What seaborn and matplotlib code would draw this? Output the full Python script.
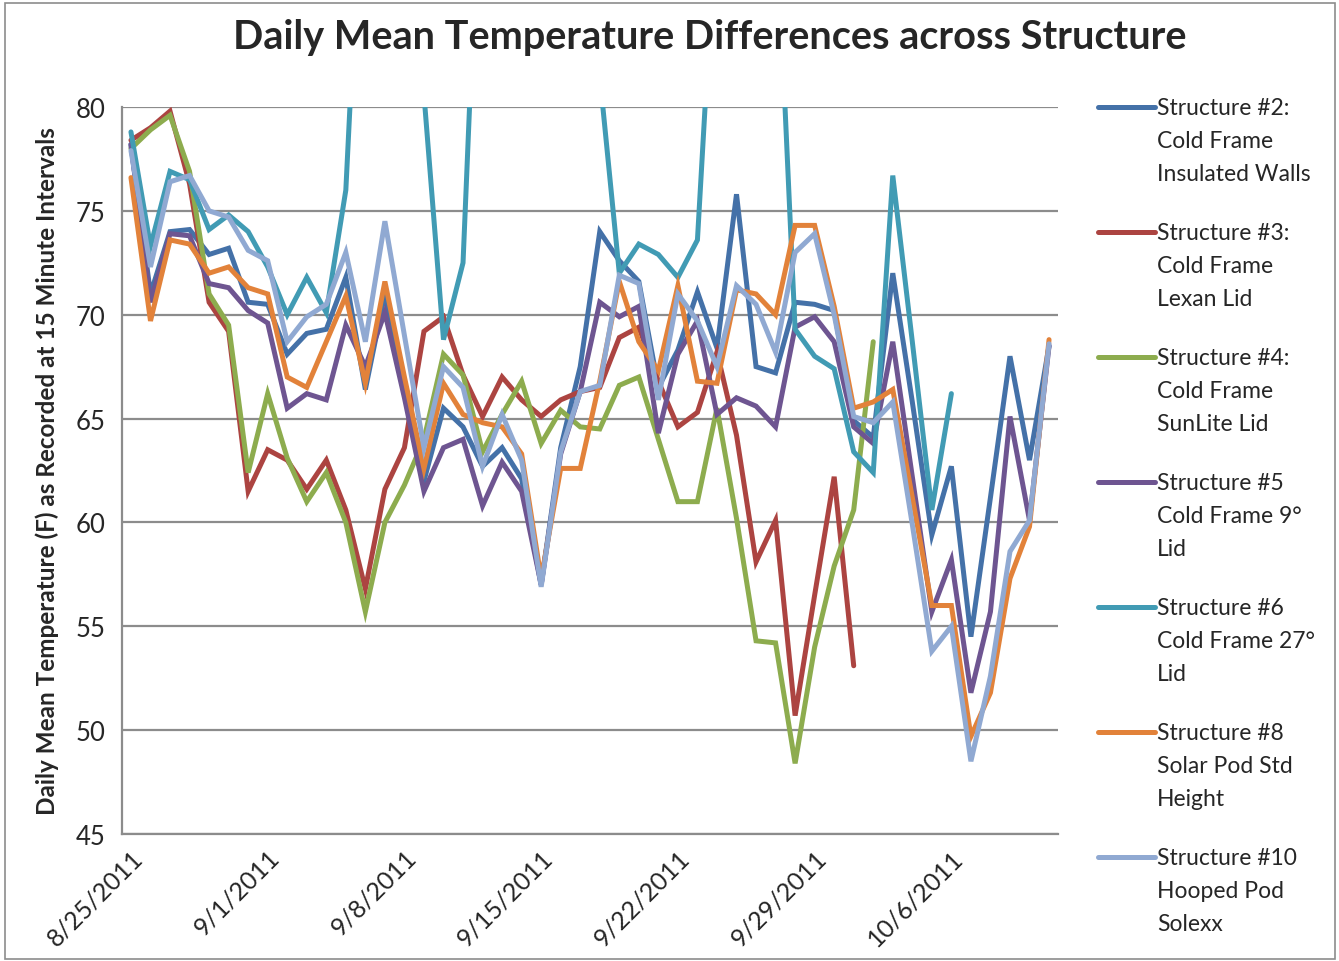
import numpy as np
import pandas as pd
import matplotlib
matplotlib.use("Agg")
import matplotlib.pyplot as plt
import matplotlib.dates as mdates
from matplotlib.lines import Line2D
from matplotlib.patches import Rectangle
import seaborn as sns

nan = np.nan

# one reading per day, 8/25/2011 .. 10/11/2011
dates = pd.date_range("2011-08-25", "2011-10-11", freq="D")

s2 = [78.2, 71.0, 74.0, 74.1, 72.9, 73.2, 70.6, 70.5, 68.1, 69.1, 69.3, 71.8,
      66.4, 71.0, 66.5, 62.0, 65.5, 64.6, 62.7, 63.6, 62.1, 57.0, 63.6, 67.5,
      74.0, 72.6, 71.6, 66.5, 68.3, 71.1, 68.4, 75.8, 67.5, 67.2, 70.6, 70.5,
      70.2, 64.9, 64.1, 72.0, 65.8, 59.4, 62.7, 54.5, 61.2, 68.0, 63.0, 68.5]
s3 = [78.4, 79.0, 79.8, 76.3, 70.6, 69.2, 61.5, 63.5, 63.0, 61.6, 63.0, 60.6,
      56.8, 61.6, 63.6, 69.2, 69.9, 67.1, 65.1, 67.0, 65.9, 65.1, 65.9, 66.3,
      66.5, 68.9, 69.4, 66.8, 64.6, 65.3, 68.2, 64.2, 58.1, 60.1, 50.7, 56.5,
      62.2, 53.1, nan, nan, nan, nan, nan, nan, nan, nan, nan, nan]
s4 = [78.0, 78.9, 79.6, 76.9, 71.0, 69.5, 62.4, 66.2, 63.1, 61.0, 62.4, 60.0,
      55.7, 60.0, 61.8, 64.0, 68.1, 67.1, 63.4, 65.2, 66.8, 63.8, 65.4, 64.6,
      64.5, 66.6, 67.0, 64.0, 61.0, 61.0, 65.5, 60.2, 54.3, 54.2, 48.4, 54.0,
      57.9, 60.6, 68.7, nan, nan, nan, nan, nan, nan, nan, nan, nan]
s5 = [78.2, 70.6, 73.9, 73.8, 71.5, 71.3, 70.2, 69.6, 65.5, 66.2, 65.9, 69.5,
      67.5, 70.1, 66.0, 61.5, 63.6, 64.0, 60.8, 62.9, 61.5, 57.0, 63.3, 66.3,
      70.6, 69.9, 70.4, 64.3, 68.1, 69.7, 65.2, 66.0, 65.6, 64.6, 69.4, 69.9,
      68.7, 64.6, 63.8, 68.7, 62.2, 55.7, 58.2, 51.8, 55.7, 65.1, 60.1, 68.5]
s6 = [78.8, 73.3, 76.9, 76.5, 74.1, 74.8, 74.0, 72.3, 70.0, 71.8, 70.1, 76.0,
      95.0, 100.0, 98.0, 80.6, 68.8, 72.5, 95.0, 98.0, 98.0, 98.0, 95.0, 92.0,
      81.5, 72.0, 73.4, 72.9, 71.8, 73.6, 90.0, 95.0, 95.0, 90.0, 69.3, 68.0,
      67.4, 63.4, 62.4, 76.7, 68.7, 60.6, 66.2, nan, nan, nan, nan, nan]
s8 = [76.6, 69.7, 73.6, 73.4, 72.0, 72.3, 71.3, 71.0, 67.0, 66.5, 68.7, 70.9,
      66.7, 71.6, 67.0, 62.6, 66.7, 65.2, 64.8, 64.6, 63.3, 57.3, 62.6, 62.6,
      66.8, 71.6, 68.7, 67.3, 71.4, 66.8, 66.7, 71.2, 71.0, 70.0, 74.3, 74.3,
      70.4, 65.5, 65.8, 66.4, 61.2, 56.0, 56.0, 49.7, 51.8, 57.3, 59.8, 68.8]
s10 = [77.9, 72.3, 76.4, 76.7, 75.0, 74.7, 73.1, 72.6, 68.7, 69.9, 70.5, 73.0,
       68.7, 74.5, 69.0, 63.6, 67.5, 66.5, 62.7, 65.2, 63.0, 56.9, 63.4, 66.3,
       66.6, 71.9, 71.5, 65.9, 71.0, 69.7, 67.5, 71.4, 70.5, 68.2, 73.0, 73.9,
       70.0, 65.1, 64.8, 65.8, 59.9, 53.8, 55.0, 48.5, 52.6, 58.6, 60.1, 68.6]

labels = ["Structure #2:\nCold Frame\nInsulated Walls",
          "Structure #3:\nCold Frame\nLexan Lid",
          "Structure #4:\nCold Frame\nSunLite Lid",
          "Structure #5\nCold Frame 9\u00b0\nLid",
          "Structure #6\nCold Frame 27\u00b0\nLid",
          "Structure #8\nSolar Pod Std\nHeight",
          "Structure #10\nHooped Pod\nSolexx"]
series = [s2, s3, s4, s5, s6, s8, s10]
colors = ["#4471A8", "#AC4441", "#8DAC4E", "#6E5591", "#419BB4", "#E2823A", "#90A9D2"]

sns.set_style("white")
plt.rcParams["font.family"] = ["Lato", "DejaVu Sans"]

fig = plt.figure(figsize=(13.39, 9.62), dpi=100)
ax = fig.add_axes([122 / 1339, 1 - 835 / 962, (1058 - 122) / 1339, (835 - 108) / 962])

for vals, col, lab in zip(series, colors, labels):
    df = pd.DataFrame({"date": dates, "temp": vals}).dropna()
    sns.lineplot(data=df, x="date", y="temp", ax=ax, color=col, lw=3.6,
                 estimator=None, legend=False, solid_joinstyle="miter")

ax.set_ylim(45, 80)
ax.set_yticks(range(45, 81, 5))
pad = pd.Timedelta(hours=11)
ax.set_xlim(dates[0] - pad, dates[-1] + pad)
ax.set_xticks(dates[::7])
ax.xaxis.set_major_formatter(mdates.DateFormatter("%-m/%-d/%Y"))
ax.yaxis.grid(True, color="#8c8c8c", lw=1.6)
ax.set_axisbelow(True)
for side in ["top", "right"]:
    ax.spines[side].set_visible(False)
for side in ["left", "bottom"]:
    ax.spines[side].set_color("#8c8c8c")
    ax.spines[side].set_linewidth(1.6)
ax.tick_params(axis="y", labelsize=18.5, length=0, pad=12)
ax.tick_params(axis="x", labelsize=18, length=0, pad=8)
for t in ax.get_xticklabels():
    t.set_rotation(45)
    t.set_ha("right")
    t.set_va("top")
    t.set_rotation_mode("anchor")
ax.set_xlabel("")
ax.set_ylabel("Daily Mean Temperature (F) as Recorded at 15 Minute Intervals",
              fontsize=17.5, fontweight="bold", labelpad=12)

fig.text(710 / 1339, 1 - 38 / 962, "Daily Mean Temperature Differences across Structure",
         ha="center", va="center", fontsize=28.5, fontweight="bold")

# legend drawn by hand so the swatch sits on the first line of each entry
for i, (col, lab) in enumerate(zip(colors, labels)):
    yc = 108 + i * 125
    fig.add_artist(Line2D([1098 / 1339, 1155 / 1339], [1 - yc / 962] * 2,
                          color=col, lw=3.6, transform=fig.transFigure))
    fig.text(1157 / 1339, 1 - (yc - 10) / 962, lab, ha="left", va="top",
             fontsize=16.5, linespacing=1.72)

fig.add_artist(Rectangle((0.004, 0.002), 0.993, 0.994, transform=fig.transFigure,
                         fill=False, edgecolor="#8c8c8c", lw=1.2))

fig.savefig("out.png", dpi=100)
